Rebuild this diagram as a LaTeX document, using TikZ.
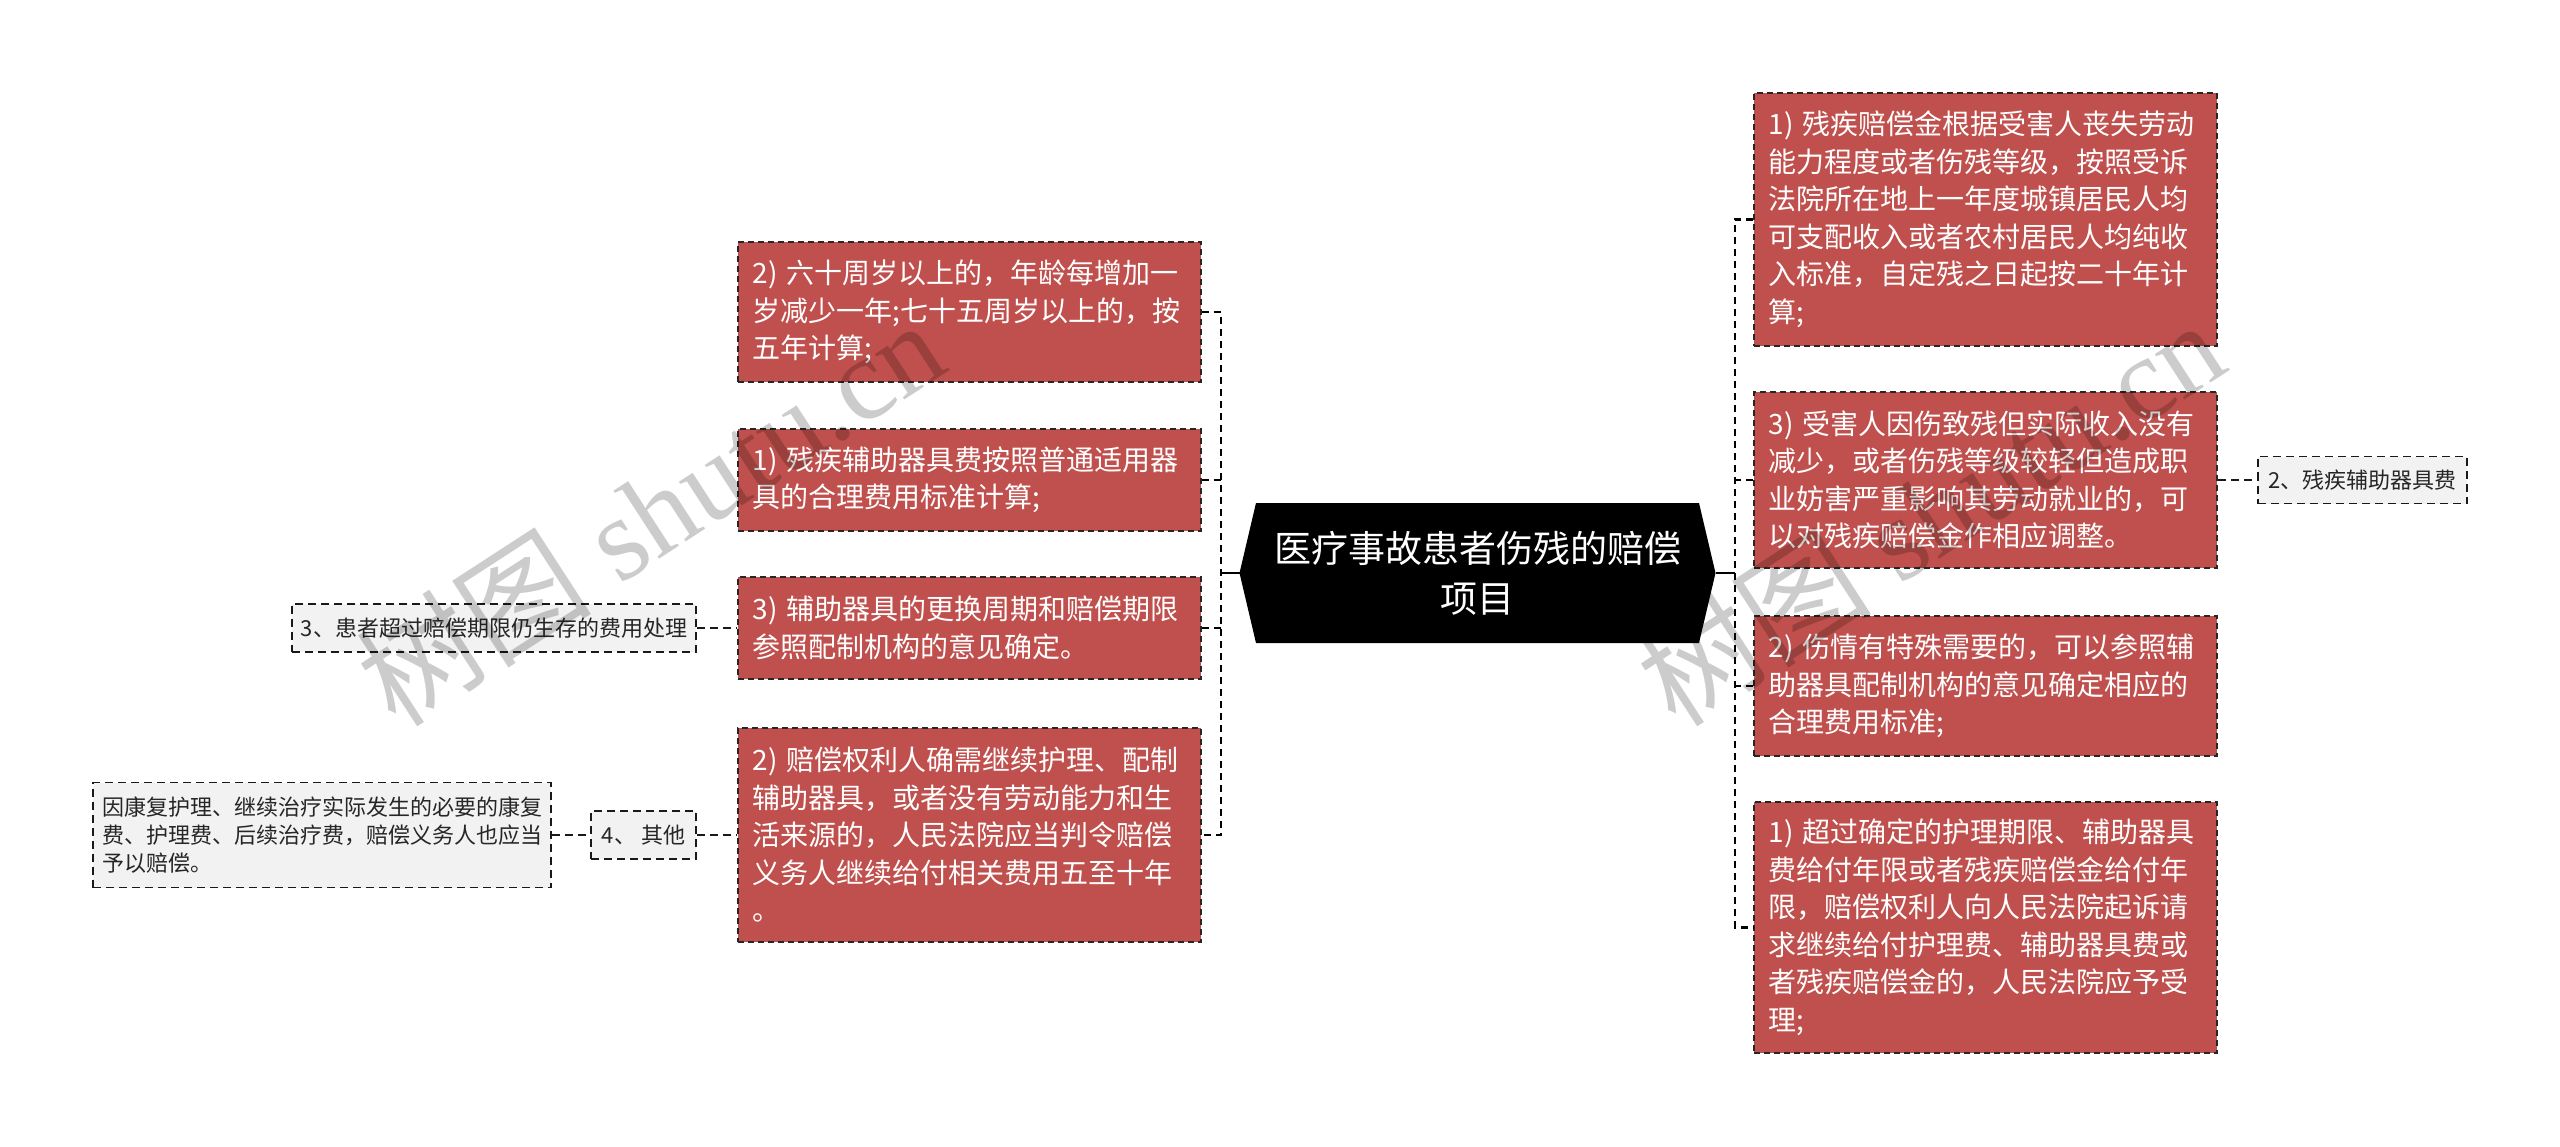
\documentclass[tikz,border=0pt]{standalone}
\usepackage{fontspec}
\newfontfamily\cjk{Noto Sans CJK SC}
\newfontfamily\wmserif{Liberation Serif}
\usetikzlibrary{calc}
\definecolor{boxred}{HTML}{C0504D}
\definecolor{boxgray}{HTML}{F2F2F2}
\begin{document}
\begin{tikzpicture}[x=1pt,y=-1pt,
  redbox/.style={draw=black!85, fill=boxred, dash pattern=on 6pt off 4pt, line width=1.6pt,
    text=white, font=\cjk\fontsize{28}{37.5}\selectfont, align=left, text width=434pt,
    inner xsep=14.5pt, inner ysep=0pt, minimum width=463pt},
  graybox/.style={draw=black!90, fill=boxgray, dash pattern=on 8pt off 5pt, line width=1.8pt,
    text=black!85, font=\cjk\fontsize{22}{28}\selectfont, inner xsep=9pt, inner ysep=0pt},
  bracketline/.style={draw=black, line width=2.8pt, dash pattern=on 7pt off 5pt},
  solidline/.style={draw=black, line width=2.8pt},
  grayline/.style={draw=black!90, line width=1.8pt, dash pattern=on 8pt off 5pt},
  wmark/.style={text=black, opacity=0.2, font=\wmserif\fontsize{118}{118}\selectfont, inner sep=0pt}
]
\path[use as bounding box, fill=white] (0,0) rectangle (2560,1147);

% central node
\coordinate (cc) at (1477.5,573);
\fill[black] ($(cc)+(-221.5,-70)$) -- ($(cc)+(-238,0)$) -- ($(cc)+(-221.5,70)$)
  -- ($(cc)+(221.5,70)$) -- ($(cc)+(238,0)$) -- ($(cc)+(221.5,-70)$) -- cycle;
\node[text=white, align=center, font=\cjk\fontsize{37}{50}\selectfont, minimum width=443pt, minimum height=140pt] (c) at (cc) {医疗事故患者伤残的赔偿\\项目};
\coordinate (cl) at ($(cc)+(-238,0)$);
\coordinate (cr) at ($(cc)+(238,0)$);
\coordinate (bl) at (1221,573);
\coordinate (br) at (1735,573);

% left red boxes
\node[redbox, minimum height=140pt] (L1) at (969.5,312) {2) 六十周岁以上的，年龄每增加一\\岁减少一年;七十五周岁以上的，按\\五年计算;};
\node[redbox, minimum height=102pt] (L2) at (969.5,480) {1) 残疾辅助器具费按照普通适用器\\具的合理费用标准计算;};
\node[redbox, minimum height=102pt] (L3) at (969.5,628) {3) 辅助器具的更换周期和赔偿期限\\参照配制机构的意见确定。};
\node[redbox, minimum height=214pt] (L4) at (969.5,835) {2) 赔偿权利人确需继续护理、配制\\辅助器具，或者没有劳动能力和生\\活来源的，人民法院应当判令赔偿\\义务人继续给付相关费用五至十年\\。};

% right red boxes
\node[redbox, minimum height=253pt] (R1) at (1985.5,219.5) {1) 残疾赔偿金根据受害人丧失劳动\\能力程度或者伤残等级，按照受诉\\法院所在地上一年度城镇居民人均\\可支配收入或者农村居民人均纯收\\入标准，自定残之日起按二十年计\\算;};
\node[redbox, minimum height=176pt] (R2) at (1985.5,480) {3) 受害人因伤致残但实际收入没有\\减少，或者伤残等级较轻但造成职\\业妨害严重影响其劳动就业的，可\\以对残疾赔偿金作相应调整。};
\node[redbox, minimum height=140pt] (R3) at (1985.5,686) {2) 伤情有特殊需要的，可以参照辅\\助器具配制机构的意见确定相应的\\合理费用标准;};
\node[redbox, minimum height=251pt] (R4) at (1985.5,927.5) {1) 超过确定的护理期限、辅助器具\\费给付年限或者残疾赔偿金给付年\\限，赔偿权利人向人民法院起诉请\\求继续给付护理费、辅助器具费或\\者残疾赔偿金的，人民法院应予受\\理;};

% gray boxes
\node[graybox, minimum width=209pt, minimum height=47pt] (G2) at (2362.5,480) {2、残疾辅助器具费};
\node[graybox, minimum width=404pt, minimum height=48pt] (G3) at (494,628) {3、患者超过赔偿期限仍生存的费用处理};
\node[graybox, minimum width=105pt, minimum height=48pt] (G4) at (643.5,835) {4、 其他};
\node[graybox, minimum width=458pt, minimum height=105pt, align=left, text width=440pt] (G5) at (322,835) {因康复护理、继续治疗实际发生的必要的康复\\费、护理费、后续治疗费，赔偿义务人也应当\\予以赔偿。};

% connectors
\draw[solidline] (cl) -- (bl);
\draw[solidline] (cr) -- (br);
\draw[bracketline] (L1.east) -- (L1.east -| bl) -- (L4.east -| bl) -- (L4.east);
\draw[bracketline] (L2.east) -- (L2.east -| bl);
\draw[bracketline] (L3.east) -- (L3.east -| bl);
\draw[bracketline] (R1.west) -- (R1.west -| br) -- (R4.west -| br) -- (R4.west);
\draw[bracketline] (R2.west) -- (R2.west -| br);
\draw[bracketline] (R3.west) -- (R3.west -| br);
\draw[grayline] (G3.east) -- (L3.west);
\draw[grayline] (G4.east) -- (L4.west);
\draw[grayline] (G5.east) -- (G4.west);
\draw[grayline] (R2.east) -- (G2.west);

% watermarks
\node[wmark, rotate=33] (w1) at (650,512) {{\cjk 树图} shutu.cn};
\node[wmark, rotate=33] (w2) at (1930,512) {{\cjk 树图} shutu.cn};
\end{tikzpicture}
\end{document}
